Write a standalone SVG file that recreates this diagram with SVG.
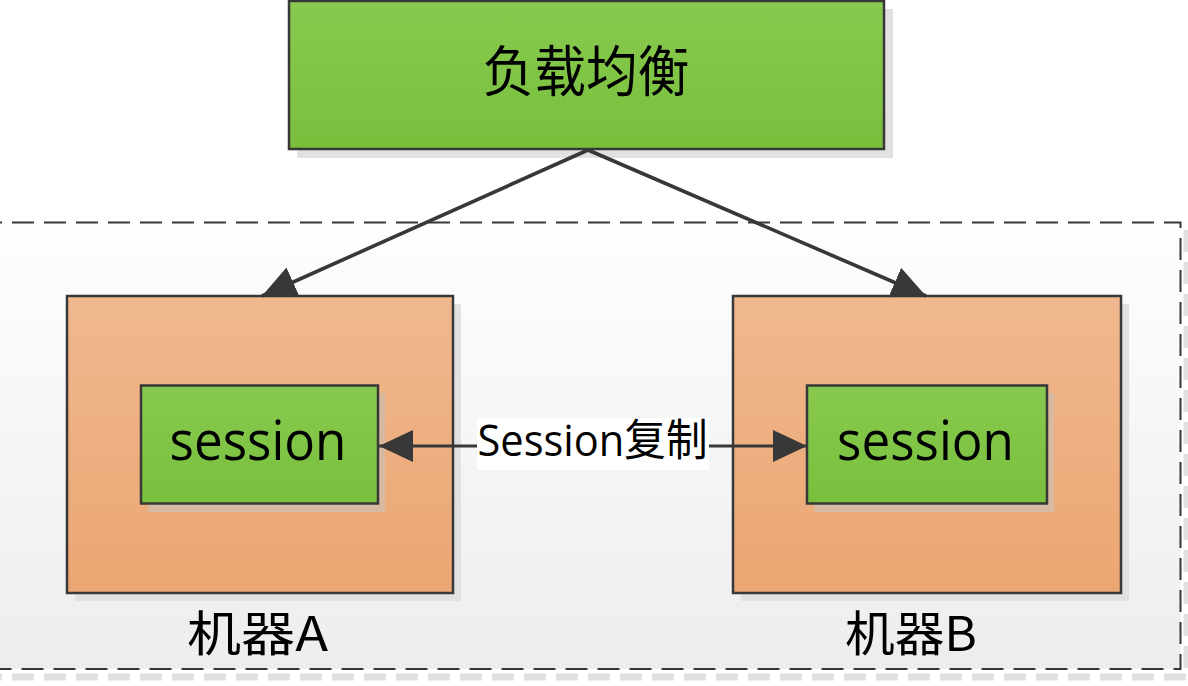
<svg xmlns="http://www.w3.org/2000/svg" width="1188" height="686" viewBox="0 0 1188 686">
  <defs>
    <linearGradient id="gGreen" x1="0" y1="0" x2="0" y2="1">
      <stop offset="0" stop-color="#88ca4f"/>
      <stop offset="1" stop-color="#79bf3c"/>
    </linearGradient>
    <linearGradient id="gOrange" x1="0" y1="0" x2="0" y2="1">
      <stop offset="0" stop-color="#f0b88f"/>
      <stop offset="1" stop-color="#eba672"/>
    </linearGradient>
    <linearGradient id="gBg" x1="0" y1="0" x2="0" y2="1">
      <stop offset="0" stop-color="#fefefe"/>
      <stop offset="1" stop-color="#ededed"/>
    </linearGradient>
    <marker id="arrow" viewBox="0 0 34 32" markerWidth="34" markerHeight="32" refX="34" refY="16" orient="auto-start-reverse" markerUnits="userSpaceOnUse">
      <path d="M0,0 L34,16 L0,32 Z" fill="#383838"/>
    </marker>
    <style>
      .box { stroke: #383838; stroke-width: 2.5; }
      .shadow { fill: #e1e1e1; }
      .ishadow { fill: #d8b9a1; }
      .dash { fill: none; stroke: #383838; stroke-width: 2; stroke-dasharray: 22 10; }
      .dashShadow { fill: none; stroke: #e0e0e0; stroke-width: 7; stroke-dasharray: 22 10; }
      .conn { fill: none; stroke: #383838; stroke-width: 3; }
      .diag { stroke-width: 3.6; }
      .cjk { font-family: "Noto Sans CJK SC", "Noto Sans", sans-serif; fill: #000; }
      .lat { font-family: "Open Sans", "Noto Sans", "Noto Sans CJK SC", sans-serif; fill: #000; }
    </style>
  </defs>

  <rect x="0" y="0" width="1188" height="686" fill="#ffffff"/>

  <g id="container">
    <path class="dashShadow" d="M1187,230 L1187,677 L-20,677"/>
    <rect x="-20" y="222.5" width="1200.5" height="446.5" fill="url(#gBg)"/>
    <rect class="dash" x="-20" y="222.5" width="1200.5" height="446.5"/>
  </g>

  <g id="loadbalancer">
    <rect class="shadow" x="297" y="9" width="596" height="149"/>
    <rect class="box" x="289" y="1" width="595" height="148" fill="url(#gGreen)"/>
    <text class="cjk" x="586" y="91" font-size="55" text-anchor="middle" textLength="207" lengthAdjust="spacingAndGlyphs">负载均衡</text>
  </g>

  <g id="machineA">
    <rect class="shadow" x="75" y="304" width="386" height="297" fill="#dadada"/>
    <rect class="box" x="67" y="296" width="386" height="297" fill="url(#gOrange)"/>
    <text class="cjk" x="257.5" y="651" font-size="48" text-anchor="middle" textLength="141" lengthAdjust="spacingAndGlyphs">机器A</text>
  </g>

  <g id="machineB">
    <rect class="shadow" x="741" y="304" width="388" height="297" fill="#dadada"/>
    <rect class="box" x="733" y="296" width="388" height="297" fill="url(#gOrange)"/>
    <text class="cjk" x="911" y="651" font-size="48" text-anchor="middle" textLength="132" lengthAdjust="spacingAndGlyphs">机器B</text>
  </g>

  <g id="sessionA">
    <rect class="ishadow" x="148" y="393" width="237" height="119"/>
    <rect class="box" x="141" y="385.5" width="237" height="118" fill="url(#gGreen)"/>
    <text class="lat" x="258" y="460" font-size="54" text-anchor="middle" textLength="177" lengthAdjust="spacingAndGlyphs">session</text>
  </g>

  <g id="sessionB">
    <rect class="ishadow" x="814" y="393" width="240" height="119"/>
    <rect class="box" x="807" y="385.5" width="240" height="118" fill="url(#gGreen)"/>
    <text class="lat" x="925.5" y="460" font-size="54" text-anchor="middle" textLength="177" lengthAdjust="spacingAndGlyphs">session</text>
  </g>

  <g id="connectors">
    <line class="conn diag" x1="588" y1="150" x2="262" y2="296" marker-end="url(#arrow)"/>
    <line class="conn diag" x1="588" y1="150" x2="926" y2="296" marker-end="url(#arrow)"/>
    <line class="conn" x1="379" y1="446" x2="807" y2="446" marker-start="url(#arrow)" marker-end="url(#arrow)"/>
    <g id="replication-label">
      <rect x="477" y="418" width="232" height="52" fill="#ffffff"/>
      <text class="lat" x="592.5" y="456" font-size="44" text-anchor="middle" textLength="230" lengthAdjust="spacingAndGlyphs">Session复制</text>
    </g>
  </g>
</svg>
